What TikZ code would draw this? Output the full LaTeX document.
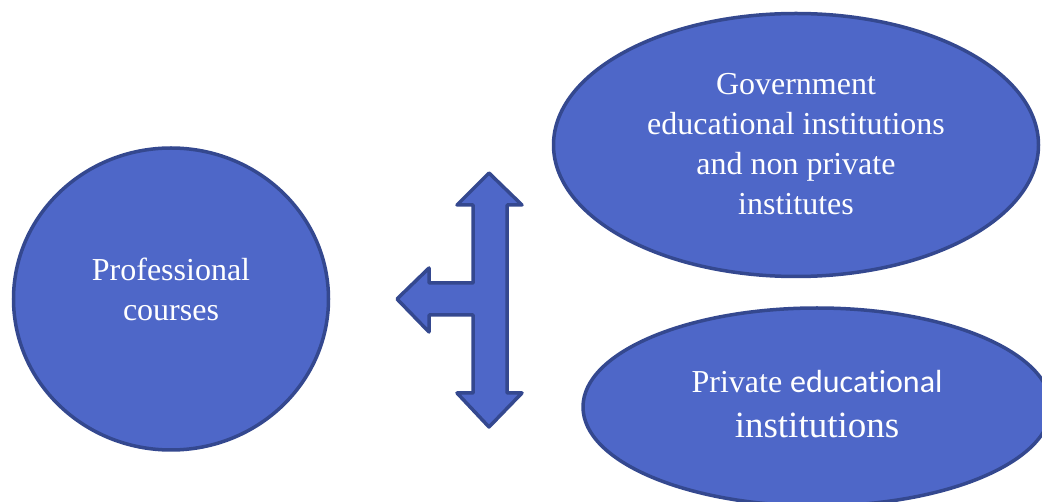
\documentclass[tikz,border=0pt]{standalone}
\usepackage{fontspec}
\setmainfont{Liberation Serif}
\newfontfamily\calibrifont[Ligatures={NoCommon}]{Carlito}
\usetikzlibrary{shapes.geometric}
\definecolor{bubblefill}{HTML}{4E67C8}
\definecolor{bubbleedge}{HTML}{34488F}

\begin{document}
\begin{tikzpicture}[x=1pt, y=-1pt,
    bubble/.style={ellipse, draw=bubbleedge, fill=bubblefill, line width=3.5pt, inner sep=0pt},
    bubbletext/.style={text=white, align=center, font=\fontsize{32}{40}\selectfont}]
                \useasboundingbox (0,0) rectangle (1042,502);
                \clip (0,0) rectangle (1042,502);

                % circle on the left
                \node[bubble, minimum width=315pt, minimum height=302pt] (prof) at (171,299) {};
                \node[bubbletext] (proftext) at ([yshift=10pt]prof.center) {Professional\\courses};

                % upper ellipse
                \node[bubble, minimum width=485pt, minimum height=263pt] (gov) at (796,145) {};
                \node[bubbletext] (govtext) at ([yshift=1pt]gov.center) {Government\\educational institutions\\and non private\\institutes};

                % lower ellipse
                \node[bubble, minimum width=468pt, minimum height=198pt] (priv) at (817,407) {};
                \node[bubbletext] (privtext) at ([yshift=3pt]priv.center)
                    {Private {\calibrifont educational}\\[5pt]{\fontsize{37}{45}\selectfont institutions}};

                % three-way arrow
                \draw[draw=bubbleedge, fill=bubblefill, line width=3.5pt, line join=round]
                    (489,173) -- (522,205) -- (507,205) -- (507,393) -- (522,393)
                    -- (489,427) -- (457,393) -- (473,393) -- (473,315) -- (429,315)
                    -- (429,332) -- (397,299) -- (429,268) -- (429,283) -- (473,283)
                    -- (473,205) -- (457,205) -- cycle;
            \end{tikzpicture}
\end{document}
